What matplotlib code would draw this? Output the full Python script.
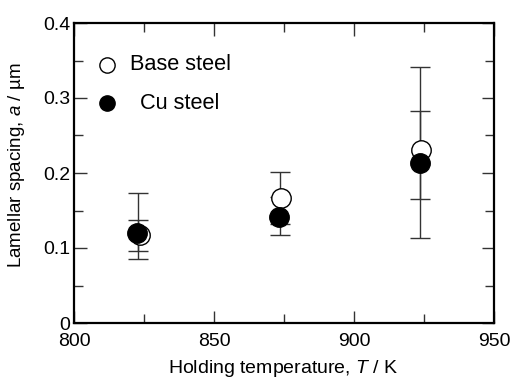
import matplotlib.pyplot as plt
import numpy as np
from matplotlib.ticker import MultipleLocator, FixedFormatter, FixedLocator

plt.rcParams['font.family'] = ['Liberation Sans', 'DejaVu Sans']
plt.rcParams['mathtext.fontset'] = 'custom'
plt.rcParams['mathtext.it'] = 'Liberation Sans:italic'
plt.rcParams['mathtext.rm'] = 'Liberation Sans'

# Holding temperature (K) and lamellar spacing (um)
base_T = [823.6, 873.9, 923.9]
base_a = [0.118, 0.167, 0.231]
base_lo = [0.086, 0.132, 0.114]
base_hi = [0.173, 0.202, 0.342]

cu_T = [822.6, 873.2, 923.6]
cu_a = [0.120, 0.142, 0.213]
cu_lo = [0.096, 0.117, 0.165]
cu_hi = [0.137, 0.168, 0.283]

errbar_T = [823.0, 873.5, 923.6]

fig = plt.figure(figsize=(5.13, 3.81), dpi=100)
ax = fig.add_axes([74 / 513, 1 - 323 / 381, 420 / 513, 300 / 381])

def err(vals, lo, hi):
    v = np.array(vals)
    return [v - np.array(lo), np.array(hi) - v]

ekw = dict(fmt='none', ecolor='#333333', elinewidth=1.0, capsize=7.5, capthick=1.0, zorder=2)
ax.errorbar(errbar_T, base_a, yerr=err(base_a, base_lo, base_hi), **ekw)
ax.errorbar(errbar_T, cu_a, yerr=err(cu_a, cu_lo, cu_hi), **ekw)

ax.plot(base_T, base_a, 'o', ms=14, mfc='white', mec='black', mew=1.0, ls='none', zorder=3)
ax.plot(cu_T, cu_a, 'o', ms=14, mfc='black', mec='black', mew=1.0, ls='none', zorder=4)

ax.set_xlim(800, 950)
ax.set_ylim(0, 0.4)
ax.xaxis.set_major_locator(MultipleLocator(50))
ax.xaxis.set_minor_locator(MultipleLocator(25))
ax.yaxis.set_major_locator(FixedLocator([0, 0.1, 0.2, 0.3, 0.4]))
ax.yaxis.set_major_formatter(FixedFormatter(['0', '0.1', '0.2', '0.3', '0.4']))
ax.yaxis.set_minor_locator(MultipleLocator(0.05))

ax.tick_params(which='both', direction='in', top=True, right=True, labelsize=14,
               width=1.0, color='#333333')
ax.tick_params(which='major', length=9, pad=2.5)
ax.tick_params(axis='x', which='major', pad=7)
ax.tick_params(which='minor', length=6.5)
for s in ax.spines.values():
    s.set_linewidth(1.6)

ax.set_xlabel('Holding temperature, $T$ / K', fontsize=14)
ax.xaxis.set_label_coords(0.498, -0.117)
ax.set_ylabel('Lamellar spacing, $a$ / µm', fontsize=13.5)
ax.yaxis.set_label_coords(-0.112, 0.527)

# legend keys drawn in axes coordinates
ax.plot([0.0786], [0.86], 'o', ms=11, mfc='white', mec='black', mew=1.0,
        transform=ax.transAxes, clip_on=False)
ax.plot([0.0786], [0.733], 'o', ms=11, mfc='black', mec='black', mew=1.0,
        transform=ax.transAxes, clip_on=False)
ax.text(0.133, 0.86, 'Base steel', fontsize=15.7, va='center', ha='left', transform=ax.transAxes)
ax.text(0.157, 0.733, 'Cu steel', fontsize=15.7, va='center', ha='left', transform=ax.transAxes)

fig.savefig('out.png', dpi=100)
